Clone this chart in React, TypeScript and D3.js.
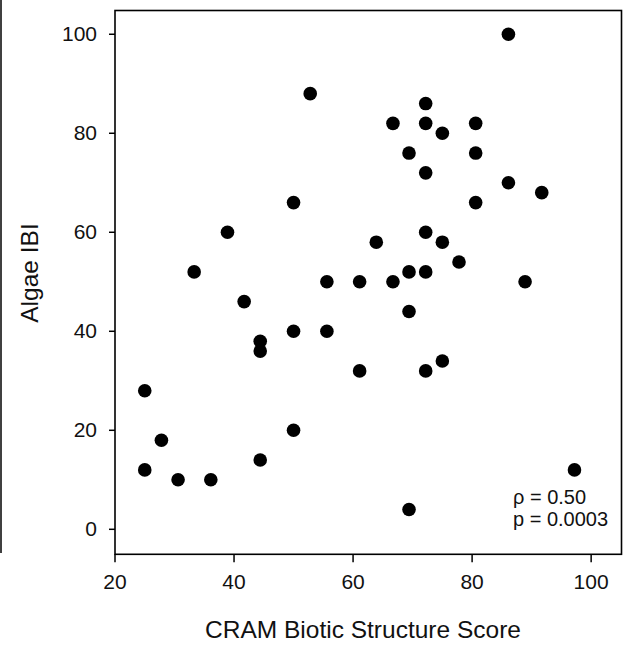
import * as d3 from 'd3'

// CRAM biotic structure score vs algae IBI, one entry per site
const cramScores = [
    25.0, 27.8, 25.0, 30.6, 36.1, 44.4, 44.4, 50.0, 50.0, 44.4,
    52.8, 50.0, 38.9, 33.3, 41.7,
    86.1, 72.2, 66.7, 72.2, 75.0, 80.6, 69.4, 80.6, 72.2, 86.1,
    91.7, 80.6, 72.2, 63.9, 75.0, 77.8, 69.4, 72.2, 55.6, 61.1,
    66.7, 88.9, 69.4, 55.6,
    61.1, 72.2, 75.0, 97.2, 69.4
]
const algaeIBI = [
    28, 18, 12, 10, 10, 38, 36, 40, 20, 14,
    88, 66, 60, 52, 46,
    100, 86, 82, 82, 80, 82, 76, 76, 72, 70,
    68, 66, 60, 58, 58, 54, 52, 52, 50, 50,
    50, 50, 44, 40,
    32, 32, 34, 12, 4
]
const xTicks = [20, 40, 60, 80, 100]
const yTicks = [0, 20, 40, 60, 80, 100]
const statLines = ['\u03c1 = 0.50', 'p = 0.0003']

const App = () => {
    const svgWidth = 635
    const svgHeight = 649
    const frame = { left: 115, right: 621.5, top: 10.5, bottom: 554.3 }

    const x = d3.scaleLinear().domain([20, 105.1]).range([frame.left, frame.right])
    const y = d3.scaleLinear().domain([-5.05, 104.8]).range([frame.bottom, frame.top])

    const font = 'Arial, "Liberation Sans", Helvetica, sans-serif'

    const points = cramScores.map((score, i) => (
        <circle key={i} cx={x(score)} cy={y(algaeIBI[i])} r={6.8} fill='#000' />
    ))

    const yAxis = yTicks.map(value => (
        <g key={value}>
            <line x1={frame.left - 6} x2={frame.left} y1={y(value)} y2={y(value)} stroke='#000' strokeWidth={1.5} />
            <text
                x={frame.left - 18}
                y={y(value)}
                dy='0.34em'
                textAnchor='end'
                fontSize={21}
                fontFamily={font}
                fill='#111'
            >
                {value}
            </text>
        </g>
    ))

    const xAxis = xTicks.map(value => (
        <g key={value}>
            <line x1={x(value)} x2={x(value)} y1={frame.bottom} y2={frame.bottom + 8} stroke='#000' strokeWidth={1.5} />
            <text
                x={x(value)}
                y={frame.bottom + 35}
                textAnchor='middle'
                fontSize={21}
                fontFamily={font}
                fill='#111'
            >
                {value}
            </text>
        </g>
    ))

    return (
        <svg
            width={svgWidth}
            height={svgHeight}
            style={{ position: 'absolute', left: 0, top: 0, background: '#fff' }}
        >
            <line x1={1} x2={1} y1={0} y2={553} stroke='#000' strokeWidth={1.5} />
            <rect
                x={frame.left}
                y={frame.top}
                width={frame.right - frame.left}
                height={frame.bottom - frame.top}
                fill='none'
                stroke='#000'
                strokeWidth={1.6}
            />
            {yAxis}
            {xAxis}
            {points}
            {statLines.map((line, i) => (
                <text key={i} x={513} y={504 + i * 22} fontSize={20} fontFamily={font} fill='#111'>
                    {line}
                </text>
            ))}
            <text x={363} y={638} textAnchor='middle' fontSize={24.5} fontFamily={font} fill='#111'>
                CRAM Biotic Structure Score
            </text>
            <text
                transform={`translate(38, 273) rotate(-90)`}
                textAnchor='middle'
                fontSize={24.5}
                fontFamily={font}
                fill='#111'
            >
                Algae IBI
            </text>
        </svg>
    )
}

export default App
